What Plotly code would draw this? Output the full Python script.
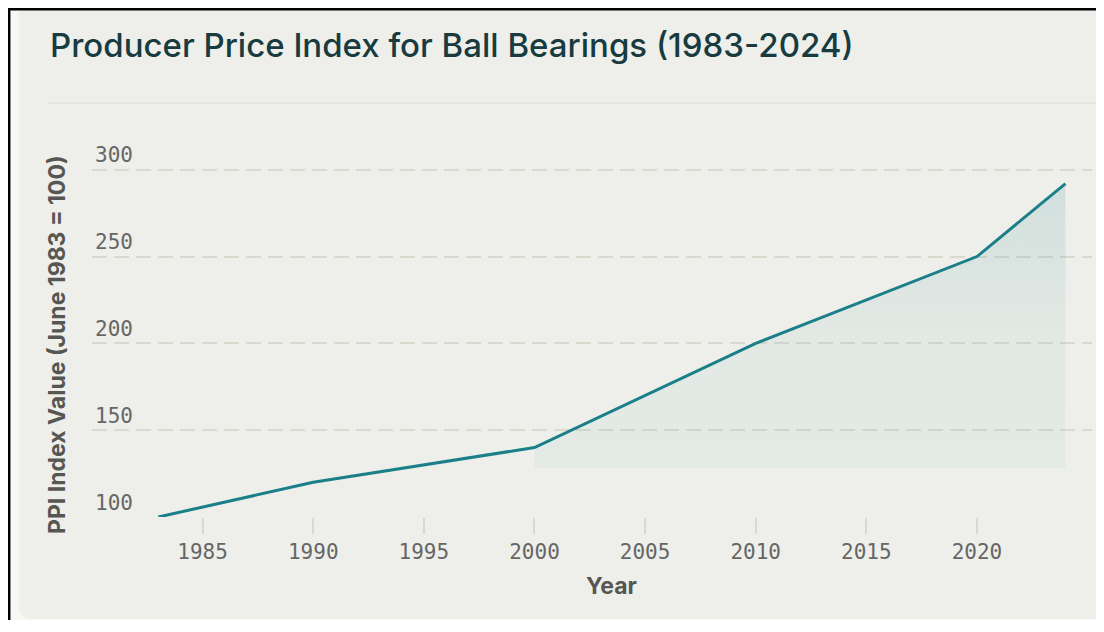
import plotly.graph_objects as go

# ---- data ----
years = [1983, 1990, 2000, 2010, 2020, 2024]
ppi = [100, 120, 140, 200, 250, 292]
fill_from_year = 2000
x_ticks = [1985, 1990, 1995, 2000, 2005, 2010, 2015, 2020]
y_ticks = [100, 150, 200, 250, 300]

title_text = "Producer Price Index for Ball Bearings (1983-2024)"
y_title = "PPI Index Value (June 1983 = 100)"
x_title = "Year"

# ---- geometry (pixels, figure space) ----
W, H = 1090, 612
L, R, T, B = 84, 6, 127, 103
PW = W - L - R
PH = H - T - B

def px(x):
    return (x - L) / PW

def py(y):
    return (H - B - y) / PH

teal = "#1b7f89"
card = "#eeefea"
outer = "#f7f8f3"
tick_col = "#666666"
title_col = "#173b3f"
axis_title_col = "#565652"

sel = [i for i, yr in enumerate(years) if yr >= fill_from_year]
fx = [years[i] for i in sel]
fy = [ppi[i] for i in sel]

fig = go.Figure()
fig.add_trace(go.Scatter(
    x=fx, y=fy, mode="none", fill="tozeroy",
    fillgradient=dict(
        type="vertical", start=0, stop=max(ppi),
        colorscale=[[0, "rgba(27,127,137,0)"], [0.438, "rgba(27,127,137,0)"],
                    [0.44, "rgba(27,127,137,0.05)"], [0.7, "rgba(27,127,137,0.055)"],
                    [1, "rgba(27,127,137,0.14)"]]),
    hoverinfo="skip", showlegend=False))
fig.add_trace(go.Scatter(
    x=years, y=ppi, mode="lines", line=dict(color=teal, width=3),
    showlegend=False))

shapes = []
# outer light strip with rounded card corner
path = (f"M {px(2)},{py(0)} L {px(11)},{py(0)} L {px(11)},{py(597)} "
        f"Q {px(11)},{py(611)} {px(25)},{py(611)} L {px(W)},{py(611)} "
        f"L {px(W)},{py(H)} L {px(2)},{py(H)} Z")
shapes.append(dict(type="path", xref="paper", yref="paper", path=path,
                   fillcolor=outer, line=dict(width=0), layer="below"))
# black frame lines (left, top)
shapes.append(dict(type="line", xref="paper", yref="paper", x0=px(1.2), x1=px(1.2), y0=py(0), y1=py(H),
                   line=dict(color="black", width=2.5)))
shapes.append(dict(type="line", xref="paper", yref="paper", x0=px(0), x1=px(W), y0=py(1.2), y1=py(1.2),
                   line=dict(color="black", width=2.5)))
# divider under title
shapes.append(dict(type="line", xref="paper", yref="paper", x0=px(40), x1=px(W), y0=py(95), y1=py(95),
                   line=dict(color="#e2e4da", width=1.5), layer="below"))

annotations = [
    dict(text=title_text, xref="paper", yref="paper", x=px(40), y=py(37),
         xanchor="left", yanchor="middle", showarrow=False,
         font=dict(family="Inter, Noto Sans, sans-serif", size=33, color=title_col, weight=500)),
    dict(text=y_title, xref="paper", yref="paper", x=px(49), y=py(337),
         xanchor="center", yanchor="middle", textangle=-90, showarrow=False,
         font=dict(family="Inter, Roboto, sans-serif", size=23, color=axis_title_col, weight=700)),
    dict(text=x_title, xref="paper", yref="paper", x=px(603), y=py(578),
         xanchor="center", yanchor="middle", showarrow=False,
         font=dict(family="Inter, Roboto, sans-serif", size=23, color=axis_title_col, weight=700)),
]

fig.update_layout(
    width=W, height=H,
    margin=dict(l=L, r=R, t=T, b=B, pad=0),
    paper_bgcolor=card, plot_bgcolor="rgba(0,0,0,0)",
    shapes=shapes, annotations=annotations,
    hovermode=False,
    xaxis=dict(range=[1980, 2025.2], tickvals=x_ticks, showgrid=False, zeroline=False,
               showline=False, ticks="outside", ticklen=16, tickwidth=2, tickcolor="#d9d9d0",
               tickfont=dict(family="DejaVu Sans Mono, monospace", size=21, color=tick_col),
               fixedrange=True),
    yaxis=dict(range=[100, 320], tickvals=y_ticks, showgrid=True, gridcolor="#d9d9d0",
               gridwidth=2, griddash="15px,7px", zeroline=False, showline=False,
               ticks="", ticklabelposition="inside top",
               tickfont=dict(family="DejaVu Sans Mono, monospace", size=21, color=tick_col),
               fixedrange=True),
)

fig.write_html("out.html", config={"displayModeBar": False})
